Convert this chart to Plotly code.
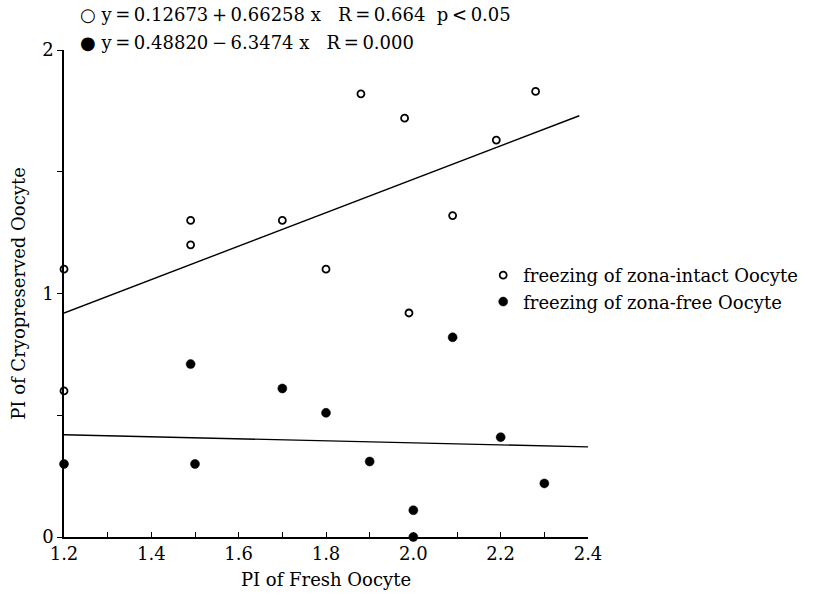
import plotly.graph_objects as go

# Data
intact_x = [1.2, 1.2, 1.49, 1.49, 1.7, 1.8, 1.88, 1.98, 1.99, 2.09, 2.19, 2.28]
intact_y = [1.1, 0.6, 1.3, 1.2, 1.3, 1.1, 1.82, 1.72, 0.92, 1.32, 1.63, 1.83]
free_x = [1.2, 1.49, 1.5, 1.7, 1.8, 1.9, 2.0, 2.0, 2.09, 2.2, 2.3]
free_y = [0.3, 0.71, 0.3, 0.61, 0.51, 0.31, 0.11, 0.0, 0.82, 0.41, 0.22]

fit_intact_x = [1.2, 2.38]
fit_intact_y = [0.92, 1.73]
fit_free_x = [1.2, 2.4]
fit_free_y = [0.42, 0.37]

x_ticks = [1.2, 1.3, 1.4, 1.5, 1.6, 1.7, 1.8, 1.9, 2.0, 2.1, 2.2, 2.3, 2.4]
x_ticktext = ["1.2", "", "1.4", "", "1.6", "", "1.8", "", "2.0", "", "2.2", "", "2.4"]
y_ticks = [0, 0.5, 1, 1.5, 2]
y_ticktext = ["0", "", "1", "", "2"]

T = "\u2009"  # thin space
eq1 = f"○ y{T}={T}0.12673{T}+{T}0.66258 x   R{T}={T}0.664  p{T}<{T}0.05"
eq2 = f"● y{T}={T}0.48820{T}−{T}6.3474 x   R{T}={T}0.000"

FONT = "DejaVu Serif"
FS = 18

fig = go.Figure()
fig.add_trace(go.Scatter(x=fit_intact_x, y=fit_intact_y, mode="lines",
                         line=dict(color="black", width=1.4), showlegend=False,
                         hoverinfo="skip"))
fig.add_trace(go.Scatter(x=fit_free_x, y=fit_free_y, mode="lines",
                         line=dict(color="black", width=1.4), showlegend=False,
                         hoverinfo="skip"))
fig.add_trace(go.Scatter(x=intact_x, y=intact_y, mode="markers",
                         name="freezing of zona-intact Oocyte",
                         marker=dict(symbol="circle", size=7, color="white",
                                     line=dict(color="black", width=1.8)),
                         cliponaxis=False))
fig.add_trace(go.Scatter(x=free_x, y=free_y, mode="markers",
                         name="freezing of zona-free Oocyte",
                         marker=dict(symbol="circle", size=9, color="black",
                                     line=dict(color="black", width=0.5)),
                         cliponaxis=False))

fig.update_layout(
    width=822, height=596,
    margin=dict(l=64, r=234, t=50, b=59),
    paper_bgcolor="white", plot_bgcolor="white",
    font=dict(family=FONT, size=FS, color="black"),
    legend=dict(x=0.80, y=0.575, xanchor="left", yanchor="top",
                bgcolor="rgba(0,0,0,0)", font=dict(family=FONT, size=FS),
                tracegroupgap=0, itemsizing="trace"),
    xaxis=dict(range=[1.2, 2.4], tickvals=x_ticks, ticktext=x_ticktext,
               ticks="inside", ticklen=5, tickwidth=1, tickcolor="black",
               showline=True, linecolor="black", linewidth=1.6,
               showgrid=False, zeroline=False, automargin=False,
               title=dict(text="PI of Fresh Oocyte", standoff=10,
                          font=dict(family=FONT, size=FS)),
               tickfont=dict(family=FONT, size=FS)),
    yaxis=dict(range=[0, 2], tickvals=y_ticks, ticktext=y_ticktext,
               ticks="outside", ticklen=5, tickwidth=1, tickcolor="black",
               showline=True, linecolor="black", linewidth=1.6,
               showgrid=False, zeroline=False, automargin=False,
               title=dict(text="PI of Cryopreserved Oocyte", standoff=12,
                          font=dict(family=FONT, size=FS)),
               tickfont=dict(family=FONT, size=FS)),
    annotations=[
        dict(text=eq1, xref="paper", yref="paper", x=0.026, y=1.072,
             xanchor="left", yanchor="middle", showarrow=False,
             font=dict(family=FONT, size=FS)),
        dict(text=eq2, xref="paper", yref="paper", x=0.026, y=1.015,
             xanchor="left", yanchor="middle", showarrow=False,
             font=dict(family=FONT, size=FS)),
    ],
)

fig.write_html("out.html")
